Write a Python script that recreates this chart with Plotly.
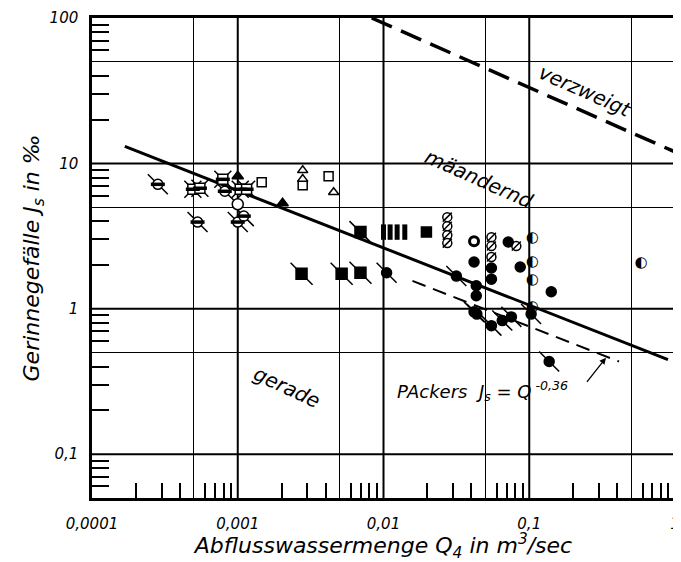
import numpy as np
import plotly.graph_objects as go

# ---- boundary lines (endpoints) ----
maeander_q = [0.000168, 0.895]
maeander_j = [13.1, 0.448]
verzweigt_q = [0.0083, 1.0]
verzweigt_j = [100.0, 12.0]
ackers_q = [0.0158, 0.413]
ackers_j = [1.556, 0.434]

# ---- measured points, by symbol ----
theta_flag_q = [0.000283, 0.00053, 0.000815, 0.00100, 0.00110]
theta_flag_j = [7.18, 3.95, 6.43, 3.95, 4.34]

crab_q = [0.000492, 0.00055, 0.00079, 0.00104, 0.00115]
crab_j = [6.64, 6.75, 7.77, 6.64, 6.64]

open_circle_q = [0.00100]
open_circle_j = [5.24]

filled_tri_q = [0.00100, 0.00203]
filled_tri_j = [8.15, 5.32]

open_sq_q = [0.00146, 0.00420, 0.00279]
open_sq_j = [7.41, 8.15, 7.07]

open_tri_q = [0.00455, 0.00279, 0.00279]
open_tri_j = [6.33, 8.96, 7.80]

flag_sq_q = [0.00274, 0.00516, 0.00695, 0.00695]
flag_sq_j = [1.74, 1.74, 1.77, 3.37]

bar_q = [0.0100, 0.0111, 0.0124, 0.0140]
bar_j = [3.37, 3.37, 3.37, 3.37]

filled_sq_q = [0.0197]
filled_sq_j = [3.37]

hatched_q = [0.0274, 0.0274, 0.0274, 0.0274, 0.055, 0.055, 0.055, 0.0815]
hatched_j = [4.27, 3.70, 3.21, 2.83, 3.11, 2.70, 2.27, 2.70]

ring_q = [0.0418]
ring_j = [2.92]

filled_circ_q = [0.0418, 0.055, 0.055, 0.0718, 0.0867, 0.0433, 0.0433, 0.1416]
filled_circ_j = [2.10, 1.91, 1.60, 2.88, 1.94, 1.44, 1.23, 1.31]

flag_circ_q = [0.0105, 0.0316, 0.0418, 0.0437, 0.055, 0.0653, 0.0754, 0.103, 0.137]
flag_circ_j = [1.77, 1.68, 0.953, 0.92, 0.766, 0.83, 0.88, 0.92, 0.434]

half_q = [0.105, 0.105, 0.105, 0.105, 0.585]
half_j = [3.06, 2.10, 1.56, 1.03, 2.07]

# ---- axis ticks ----
x_tickvals = [0.0001, 0.0005, 0.001, 0.005, 0.01, 0.05, 0.1, 0.5, 1]
x_ticktext = ["0,0001", "", "0,001", "", "0,01", "", "0,1", "", "1"]
y_tickvals = [0.1, 0.5, 1, 5, 10, 50, 100]
y_ticktext = ["0,1", "", "1", "", "10", "", "100"]
x_decades = [0.001, 0.01, 0.1]
y_decades = [0.1, 1, 10]
x_minor = [m * 10.0 ** e for e in range(-4, 0) for m in (2, 3, 4, 6, 7, 8, 9)]
y_minor = [m * 10.0 ** e for e in range(-2, 2) for m in (2, 3, 4, 6, 7, 8, 9) if m * 10.0 ** e > 0.05]

FONT = "DejaVu Sans"
fig = go.Figure()

def line(q, j, width, dash=None):
    fig.add_trace(go.Scatter(x=q, y=j, mode="lines",
                             line=dict(color="black", width=width, dash=dash),
                             hoverinfo="skip"))

def mk(q, j, symbol, size, fill="black", lw=1.5):
    fig.add_trace(go.Scatter(x=q, y=j, mode="markers",
                             marker=dict(symbol=symbol, size=size, color=fill,
                                         line=dict(color="black", width=lw))))

line(maeander_q, maeander_j, 3)
line(verzweigt_q, verzweigt_j, 3.5, "22px,10px")
line(ackers_q, ackers_j, 2, "14px,8px")

# theta circles with flag
mk(theta_flag_q, theta_flag_j, "line-nw", 20, lw=1.5)
mk(theta_flag_q, theta_flag_j, "circle", 10, fill="white", lw=1.5)
mk(theta_flag_q, theta_flag_j, "line-ew", 10, lw=3.5)
# crab symbols
mk(crab_q, crab_j, "x-thin", 17, lw=1.5)
mk(crab_q, crab_j, "square", 10, fill="white", lw=1.5)
mk(crab_q, crab_j, "line-ew", 10, lw=3.5)
# open circle
mk(open_circle_q, open_circle_j, "circle", 11, fill="white", lw=1.5)
# triangles / squares
mk(filled_tri_q, filled_tri_j, "triangle-up", 10)
mk(open_sq_q, open_sq_j, "square", 9, fill="white", lw=1.5)
mk(open_tri_q, open_tri_j, "triangle-up", 9, fill="white", lw=1.5)
# flagged filled squares
mk(flag_sq_q, flag_sq_j, "line-nw", 22, lw=1.5)
mk(flag_sq_q, flag_sq_j, "square", 11)
# bars and filled square
mk(bar_q, bar_j, "line-ns", 11, lw=5)
mk(filled_sq_q, filled_sq_j, "square", 10)
# hatched circles
mk(hatched_q, hatched_j, "circle", 9, fill="white", lw=1.5)
mk(hatched_q, hatched_j, "line-ne", 9, lw=1.5)
# ring
mk(ring_q, ring_j, "circle", 9, fill="white", lw=3)
# filled circles
mk(filled_circ_q, filled_circ_j, "circle", 10)
# flagged filled circles
mk(flag_circ_q, flag_circ_j, "line-nw", 20, lw=1.5)
mk(flag_circ_q, flag_circ_j, "circle", 10)
# half-filled circles
fig.add_trace(go.Scatter(x=half_q, y=half_j, mode="text", text=["◐"] * len(half_q),
                         textposition="middle center",
                         textfont=dict(family=FONT, size=15, color="black")))

# decade grid lines (thicker)
for v in x_decades:
    fig.add_shape(type="line", xref="x", yref="paper", x0=v, x1=v, y0=0, y1=1,
                  line=dict(color="black", width=2), layer="below")
for v in y_decades:
    fig.add_shape(type="line", xref="paper", yref="y", x0=0, x1=1, y0=v, y1=v,
                  line=dict(color="black", width=2), layer="below")

ann_font = dict(family=FONT, size=20, color="black", style="italic")
L = np.log10
fig.add_annotation(x=L(0.242), y=L(31.6), text="verzweigt", showarrow=False,
                   textangle=24, font=ann_font)
fig.add_annotation(x=L(0.0455), y=L(7.76), text="mäandernd", showarrow=False,
                   textangle=24, font=ann_font)
fig.add_annotation(x=L(0.00217), y=L(0.292), text="gerade", showarrow=False,
                   textangle=25, font=ann_font)
fig.add_annotation(x=L(0.0119), y=L(0.274), xanchor="left",
                   text="PAckers  J<sub>s</sub> = Q<sup> -0,36</sup>", showarrow=False,
                   font=dict(family=FONT, size=18, color="black", style="italic"))
fig.add_annotation(x=L(0.336), y=L(0.461), text=" ", showarrow=True, ax=-22, ay=28,
                   arrowhead=2, arrowsize=1, arrowwidth=1.3, arrowcolor="black",
                   standoff=0)

tick_font = dict(family=FONT, size=15, color="black", style="italic")
title_font = dict(family=FONT, size=22, color="black", style="italic")

fig.update_xaxes(type="log", range=[-4, 0], tickvals=x_tickvals, ticktext=x_ticktext,
                 ticks="", showgrid=True, gridcolor="black", gridwidth=1.2,
                 showline=True, linecolor="black", linewidth=2.5, mirror=True,
                 tickfont=tick_font, ticklabelstandoff=10, zeroline=False,
                 minor=dict(tickvals=x_minor, ticks="inside", ticklen=15,
                            tickwidth=1.5, tickcolor="black", showgrid=False),
                 title=dict(text="Abflusswassermenge Q<sub>4</sub> in m<sup>3</sup>/sec",
                            font=title_font, standoff=6))
fig.update_yaxes(type="log", range=[np.log10(0.05), 2], tickvals=y_tickvals,
                 ticktext=y_ticktext, ticks="", showgrid=True, gridcolor="black",
                 gridwidth=1.2, showline=True, linecolor="black", linewidth=2.5,
                 mirror=True, tickfont=tick_font, ticklabelstandoff=8, zeroline=False,
                 minor=dict(tickvals=y_minor, ticks="inside", ticklen=17,
                            tickwidth=1.5, tickcolor="black", showgrid=False),
                 title=dict(text="Gerinnegefälle J<sub>s</sub> in ‰",
                            font=title_font, standoff=4))

# page has an 8px body margin, so the figure is 8px smaller and margins shifted
fig.update_layout(width=673, height=554, showlegend=False,
                  margin=dict(l=84, r=6, t=10, b=64, autoexpand=False),
                  plot_bgcolor="white", paper_bgcolor="white")

fig.write_html("out.html")
